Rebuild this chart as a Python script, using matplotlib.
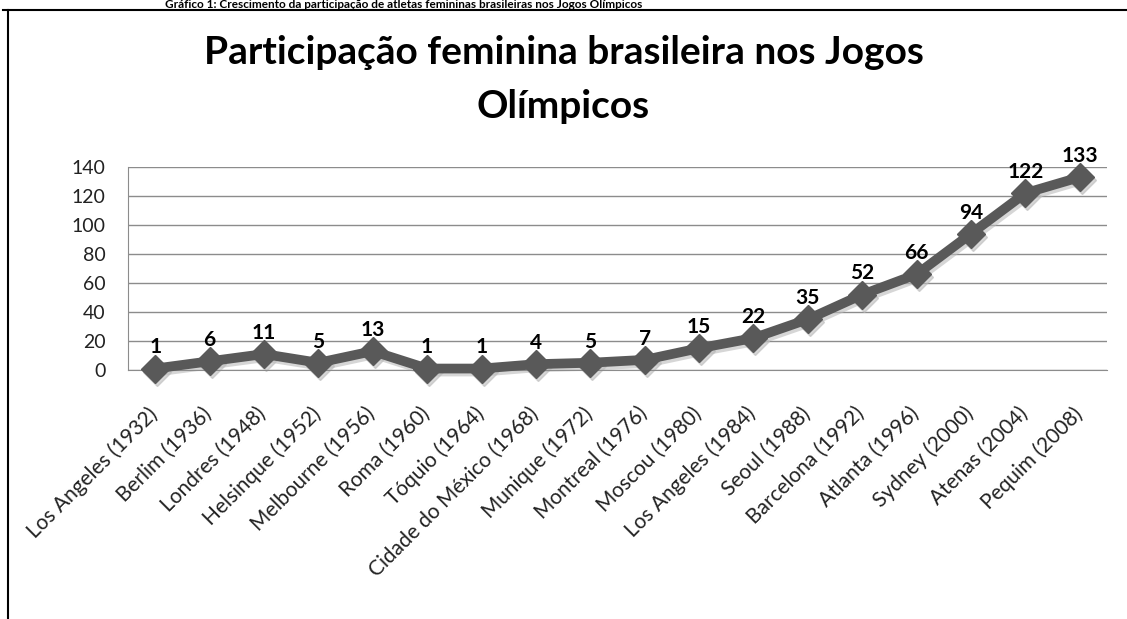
import matplotlib.pyplot as plt
import matplotlib.transforms as mtransforms
from matplotlib.lines import Line2D

plt.rcParams['font.family'] = ['Lato', 'DejaVu Sans']

cidades = ['Los Angeles (1932)', 'Berlim (1936)', 'Londres (1948)', 'Helsinque (1952)',
           'Melbourne (1956)', 'Roma (1960)', 'Tóquio (1964)', 'Cidade do México (1968)',
           'Munique (1972)', 'Montreal (1976)', 'Moscou (1980)', 'Los Angeles (1984)',
           'Seoul (1988)', 'Barcelona (1992)', 'Atlanta (1996)', 'Sydney (2000)',
           'Atenas (2004)', 'Pequim (2008)']
atletas = [1, 6, 11, 5, 13, 1, 1, 4, 5, 7, 15, 22, 35, 52, 66, 94, 122, 133]
y_ticks = [0, 20, 40, 60, 80, 100, 120, 140]

fig = plt.figure(figsize=(11.27, 6.19), dpi=100)

# moldura da página (só a parte visível)
fig.add_artist(Line2D([3 / 1127, 1], [1 - 10 / 619, 1 - 10 / 619], color='black', lw=1.5))
fig.add_artist(Line2D([8 / 1127, 8 / 1127], [0, 1 - 10 / 619], color='black', lw=1.5))

# legenda do documento no topo
fig.text(165 / 1127, 1 - 8 / 619,
         'Gráfico 1: Crescimento da participação de atletas femininas brasileiras nos Jogos Olímpicos',
         fontsize=8.5, fontweight='bold', ha='left', va='baseline')

fig.text(0.5, 1 - 52 / 619, 'Participação feminina brasileira nos Jogos',
         fontsize=28, fontweight='bold', ha='center', va='center')
fig.text(0.5, 1 - 106 / 619, 'Olímpicos',
         fontsize=28, fontweight='bold', ha='center', va='center')

ax = fig.add_axes([128 / 1127, 1 - 370 / 619, (1107 - 128) / 1127, (370 - 167) / 619])
x = list(range(len(cidades)))

# sombra da linha
sombra = mtransforms.offset_copy(ax.transData, fig=fig, x=2, y=-3, units='dots')
ax.plot(x, atletas, color='#bbbbbb', lw=7, marker='D', markersize=14, alpha=0.6,
        transform=sombra, zorder=2, clip_on=False)
ax.plot(x, atletas, color='#595959', lw=7, marker='D', markersize=14, zorder=3, clip_on=False)

for xi, v in zip(x, atletas):
    ax.annotate(str(v), (xi, v), xytext=(0, 8), textcoords='offset points',
                ha='center', va='bottom', fontsize=15, fontweight='bold', zorder=4)

ax.set_xlim(-0.5, len(cidades) - 0.5)
ax.set_ylim(0, 140)
ax.set_yticks(y_ticks)
ax.yaxis.grid(True, color='#8c8c8c', lw=1)
ax.set_axisbelow(True)
for s in ['top', 'right']:
    ax.spines[s].set_visible(False)
for s in ['left', 'bottom']:
    ax.spines[s].set_color('#8c8c8c')
ax.tick_params(axis='both', length=0, colors='#222222')
ax.tick_params(axis='y', pad=16, labelsize=14)
ax.set_xticks(x)
ax.set_xticklabels(cidades, rotation=45, ha='right', rotation_mode='anchor', fontsize=15)
ax.tick_params(axis='x', pad=24)
desloc = mtransforms.ScaledTranslation(-8 / 100, 0, fig.dpi_scale_trans)
for lbl in ax.get_xticklabels():
    lbl.set_transform(lbl.get_transform() + desloc)

fig.savefig('out.png', dpi=100)
